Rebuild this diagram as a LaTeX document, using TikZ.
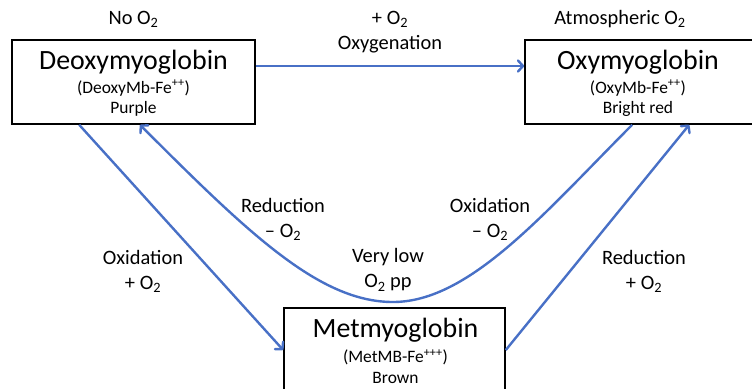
\documentclass[tikz,border=0pt]{standalone}
\usepackage{fontspec}
\setmainfont{Carlito}
\usetikzlibrary{arrows.meta,calc}
\definecolor{arrowblue}{RGB}{72,112,198}
\begin{document}
\begin{tikzpicture}[x=1bp,y=-1bp,
  box/.style={draw=black,line width=1.6bp,minimum height=84bp,inner sep=0pt},
  big/.style={font=\fontsize{28}{30}\selectfont,inner sep=0pt},
  sub/.style={font=\fontsize{17.5}{20}\selectfont,inner sep=0pt},
  lab/.style={font=\fontsize{20.5}{25}\selectfont,inner sep=0pt,align=center},
  conn/.style={draw=arrowblue,line width=2.4bp,line join=round,
     -{Straight Barb[length=5bp,width=11bp,line cap=round,line join=round]}}]
\useasboundingbox (0,0) rectangle (752,388);
\clip (0,0) rectangle (752,388);
% boxes
\node[box,minimum width=243bp] (deoxy) at (133.5,82) {};
\node[box,minimum width=240bp] (oxy) at (645,82) {};
\node[box,minimum width=221bp,minimum height=112bp] (met) at (394.5,364) {};
% box texts
\node[lab] (noo2) at (133.5,19) {No O\textsubscript{2}};
\node[big] (deoxyname) at (133.5,62) {Deoxymyoglobin};
\node[sub] (deoxyform) at (133.5,88) {(DeoxyMb-Fe\textsuperscript{++})};
\node[sub] (deoxycol) at (133.5,109) {Purple};
\node[lab] (atmo2) at (620,19) {Atmospheric O\textsubscript{2}};
\node[big] (oxyname) at (638,62) {Oxymyoglobin};
\node[sub] (oxyform) at (638,88) {(OxyMb-Fe\textsuperscript{++})};
\node[sub] (oxycol) at (638,109) {Bright red};
\node[big] (metname) at (395.5,330) {Metmyoglobin};
\node[sub] (metform) at (395.5,357) {(MetMB-Fe\textsuperscript{+++})};
\node[sub] (metcol) at (395.5,378) {Brown};
% labels
\node[lab] (oxygen) at (390,32) {+ O\textsubscript{2}\\Oxygenation};
\node[lab] (redl) at (283,219) {Reduction\\– O\textsubscript{2}};
\node[lab] (oxir) at (490,219) {Oxidation\\– O\textsubscript{2}};
\node[lab] (verylow) at (388,270) {Very low\\O\textsubscript{2} pp};
\node[lab] (oxil) at (143,271) {Oxidation\\+ O\textsubscript{2}};
\node[lab] (redr) at (644,271) {Reduction\\+ O\textsubscript{2}};
% connectors
\draw[conn] ([yshift=16bp]deoxy.east) -- ([yshift=16bp]oxy.west);
\draw[conn] ([xshift=68bp]deoxy.south west) -- ([yshift=14bp]met.west);
\coordinate (low) at (393,302);
\draw[conn] ([xshift=108bp]oxy.south west) .. controls (545,212) and (470,302) .. (low)
   .. controls (320,302) and (250,235) .. ([xshift=6.5bp]deoxy.south);
\draw[conn] ([yshift=14bp]met.east) -- ([xshift=165bp]oxy.south west);
\end{tikzpicture}
\end{document}
